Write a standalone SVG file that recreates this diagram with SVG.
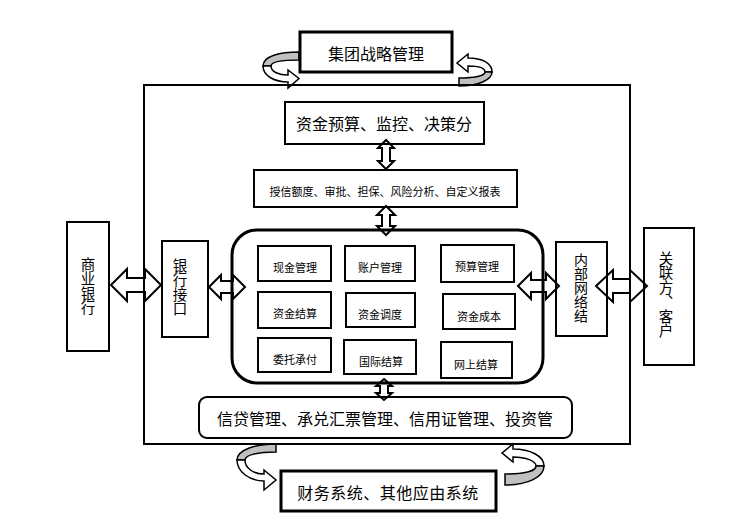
<svg xmlns="http://www.w3.org/2000/svg" width="741" height="526" viewBox="0 0 741 526">
<style>
.box{fill:none;stroke:#000;stroke-width:2}
.thick{fill:none;stroke:#000;stroke-width:3}
.t{font-family:"Noto Sans CJK SC","Noto Sans",sans-serif;fill:#000;text-anchor:middle;dominant-baseline:central}
.big{font-size:16px}
.sm{font-size:11px}
.v{font-family:"Noto Sans CJK SC","Noto Sans",sans-serif;fill:#000;font-size:14.5px;writing-mode:vertical-rl;text-anchor:start;dominant-baseline:central}
.arr{fill:#fff;stroke:#000;stroke-width:2;stroke-linejoin:miter}
.cw{fill:#fff;stroke:#000;stroke-width:1.5}
.cg{fill:#c0c0c0;stroke:#000;stroke-width:1.5}
</style>
<rect width="741" height="526" fill="#fff"/>
<g id="connectors">
<polygon class="arr" points="111,285 127,269 127,278 145,278 145,269 161,285 145,301 145,292 127,292 127,301"/>
<polygon class="arr" points="209,287 221,275 221,281 233,281 233,275 245,287 233,299 233,293 221,293 221,299"/>
<polygon class="arr" points="518,286 531,273 531,280 546,280 546,273 559,286 546,299 546,292 531,292 531,299"/>
<polygon class="arr" points="596,286 613,270 613,279 630,279 630,270 647,286 630,302 630,293 613,293 613,302"/>
<polygon class="arr" points="386,140 394,148 390,148 390,161 394,161 386,169 378,161 382,161 382,148 378,148"/>
<polygon class="arr" points="386,206 395,215 390,215 390,226 395,226 386,235 377,226 382,226 382,215 377,215"/>
<polygon class="arr" points="384,379 392,386 388,386 388,393 392,393 384,400 376,393 380,393 380,386 376,386"/>
<path class="cg" d="M299,52 C280,52 263,56 263,66 L271,66 C271,62 282,60 299,60 Z"/>
<path class="cw" d="M263,66 C263,76 275,82 288,82 L288,88 L299,78.5 L288,70 L288,75 C279,75 271,72 271,66 Z"/>
<path class="cw" d="M468,58 C482,58 492,63 492,72 L485,72 C485,68 478,66 468,66 L468,72 L457,63 L468,54 Z"/>
<path class="cg" d="M492,72 C492,80 478,86 459,86 L459,78 C474,78 485,76 485,72 Z"/>
<path class="cg" d="M276,444 C255,444 237,450 237,460 L245,460 C245,455 258,452 276,452 Z"/>
<path class="cw" d="M237,460 C237,472 250,481 264,481 L264,490 L276,480 L264,470 L264,474 C253,474 245,468 245,460 Z"/>
<path class="cw" d="M513,449 C530,449 544,456 544,466 L536,466 C536,461 526,457 513,457 L513,462 L502,453 L513,444 Z"/>
<path class="cg" d="M544,466 C544,477 528,485 505,485 L505,474 C524,474 536,471 536,466 Z"/>
</g>
<g id="outer"><rect class="box" x="144" y="85" width="486" height="359"/></g>
<g id="group-strategy"><rect class="thick" x="300" y="32" width="152" height="40"/><text class="t big" x="376" y="53">集团战略管理</text></g>
<g id="finance-systems"><rect class="thick" x="281" y="471" width="215" height="40"/><text class="t big" x="388" y="492" letter-spacing="0.5">财务系统、其他应由系统</text></g>
<g id="budget"><rect class="box" x="285" y="102" width="199" height="42"/><text class="t big" x="384" y="123">资金预算、监控、决策分</text></g>
<g id="credit"><rect class="box" x="254" y="170" width="263" height="37"/><text class="t sm" x="385" y="191">授信额度、审批、担保、风险分析、自定义报表</text></g>
<g id="core"><rect class="thick" x="232" y="230" width="311" height="153" rx="25" ry="25"/></g>
<g id="cash"><rect class="box" x="258" y="246" width="73" height="35"/><text class="t sm" x="295" y="267">现金管理</text></g>
<g id="account"><rect class="box" x="345" y="246" width="70" height="35"/><text class="t sm" x="380" y="267">账户管理</text></g>
<g id="budget-mgmt"><rect class="box" x="441" y="245" width="73" height="37"/><text class="t sm" x="477" y="266">预算管理</text></g>
<g id="settle"><rect class="box" x="258" y="292" width="73" height="36"/><text class="t sm" x="295" y="313">资金结算</text></g>
<g id="dispatch"><rect class="box" x="346" y="293" width="69" height="34"/><text class="t sm" x="380" y="314">资金调度</text></g>
<g id="cost"><rect class="box" x="443" y="294" width="72" height="35"/><text class="t sm" x="479" y="316">资金成本</text></g>
<g id="entrust"><rect class="box" x="258" y="338" width="73" height="34"/><text class="t sm" x="295" y="359">委托承付</text></g>
<g id="intl"><rect class="box" x="344" y="340" width="72" height="34"/><text class="t sm" x="381" y="361">国际结算</text></g>
<g id="online"><rect class="box" x="441" y="342" width="71" height="36"/><text class="t sm" x="476" y="364">网上结算</text></g>
<g id="loans"><rect class="box" x="199" y="397" width="373" height="41" rx="8" ry="8"/><text class="t big" x="385" y="418">信贷管理、承兑汇票管理、信用证管理、投资管</text></g>
<g id="bank"><rect class="box" x="67" y="222" width="42" height="129"/><text class="v" x="88" y="257">商业银行</text></g>
<g id="bank-if"><rect class="box" x="162" y="241" width="46" height="96"/><text class="v" x="180" y="258">银行接口</text></g>
<g id="intranet"><rect class="box" x="556" y="242" width="51" height="94"/><text class="v" x="581" y="253" style="font-size:14px">内部网络结</text></g>
<g id="related"><rect class="box" x="644" y="228" width="50" height="137"/><text class="v" x="666" y="251">关联方、客户</text></g>
</svg>
